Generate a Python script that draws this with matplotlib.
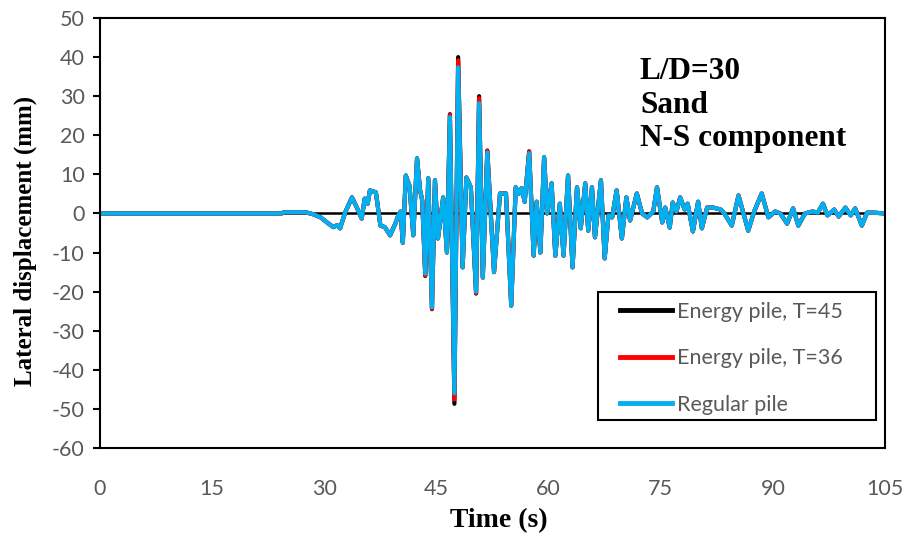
import numpy as np
import matplotlib.pyplot as plt
from matplotlib.lines import Line2D
from matplotlib.patches import Rectangle

plt.rcParams['axes.unicode_minus'] = False

# Desplazamiento lateral (pilote regular, en mm)
tiempo = [0, 24.3, 24.6, 27.5, 28.5, 29.5, 30.5, 31.2, 31.7, 32.1, 32.8, 33.2, 33.7,
          34.4, 35.0, 35.4, 35.8, 36.1, 36.9, 37.5, 38.1, 38.8, 39.5, 39.9, 40.2,
          40.5, 40.9, 41.4, 41.9, 42.4, 42.8, 43.1, 43.5, 43.9, 44.4, 44.8, 45.2,
          45.9, 46.4, 46.8, 47.4, 47.9, 48.5, 49.0, 49.6, 50.3, 50.7, 51.2, 51.8,
          52.7, 53.5, 54.3, 55.0, 55.6, 56.0, 56.4, 56.8, 57.4, 58.0, 58.4, 58.9,
          59.4, 59.8, 60.4, 60.9, 61.5, 62.0, 62.6, 63.2, 63.8, 64.3, 64.9, 65.3,
          65.8, 66.2, 67.0, 67.5, 68.0, 68.5, 69.1, 69.8, 70.4, 70.9, 71.8, 72.5,
          73.2, 74.0, 74.5, 75.2, 75.6, 76.2, 76.6, 77.1, 77.6, 78.2, 78.6, 79.3,
          80.0, 80.5, 81.2, 82.0, 83.0, 83.5, 84.5, 85.4, 86.7, 87.5, 88.5, 89.4,
          90.3, 91.0, 91.9, 92.7, 93.4, 94.3, 95.3, 96.0, 96.7, 97.3, 98.2, 98.8,
          99.7, 100.4, 101.0, 101.9, 102.6, 103.5, 105]
regular = [0, 0, 0.3, 0.3, -0.2, -1.0, -2.5, -3.5, -3.0, -3.8, 0.3, 2.0, 4.1,
           1.3, -1.3, 3.8, 2.5, 5.9, 5.4, -3.1, -3.5, -5.6, -2.6, -0.5, 0.5,
           -7.5, 9.7, 7.0, -5.6, 14.1, 6.0, 3.3, -15.4, 9.0, -24.0, 8.5, -6.4,
           4.1, -10.0, 24.6, -46.0, 37.4, -13.8, 9.2, 6.7, -20.0, 28.2, -16.4, 15.6,
           -15.0, 5.1, 5.1, -23.6, 6.7, 5.0, 6.5, 3.0, 15.4, -10.8, 3.0, -10.0,
           14.4, 0.0, 7.7, -10.8, 2.5, -10.8, 9.7, -13.8, 6.7, -3.8, 7.7, -4.4,
           6.7, -6.1, 8.5, -11.5, -0.5, -1.0, 5.9, -6.4, 4.1, -1.8, 5.1, 0.0,
           -1.0, 0.5, 6.7, -2.3, 1.5, -3.6, 2.8, 0.5, 4.1, 1.0, 2.5, -4.6,
           3.0, -3.8, 1.5, 1.5, 1.0, 0.0, -3.1, 4.6, -4.4, 0.5, 5.1, -1.0,
           0.5, 0.0, -2.6, 1.3, -3.1, 0.0, 0.5, 0.2, 2.5, -0.5, 1.0, -0.8,
           1.5, -0.5, 1.3, -3.1, 0.2, 0.2, 0]

# Picos donde los pilotes de energia se separan del regular
picos_t36 = {43.5: -15.9, 44.4: -24.4, 46.8: 25.2, 47.4: -47.6, 47.9: 39.2,
             50.3: -20.4, 50.7: 29.5, 51.8: 16.0, 57.4: 15.8}
picos_t45 = {43.5: -16.0, 44.4: -24.5, 46.8: 25.4, 47.4: -48.7, 47.9: 40.0,
             50.3: -20.5, 50.7: 30.0, 51.8: 16.1, 57.4: 15.9}

t = np.array(tiempo)
y_reg = np.array(regular)
y_36 = y_reg.copy()
y_45 = y_reg.copy()
for k, v in picos_t36.items():
    y_36[tiempo.index(k)] = v
for k, v in picos_t45.items():
    y_45[tiempo.index(k)] = v

etiquetas = ['Energy pile, T=45', 'Energy pile, T=36', 'Regular pile']
colores = ['#000000', '#FF0000', '#00B0F0']

gris = '#595959'
fig = plt.figure(figsize=(9.11, 5.36), dpi=100)
ax = fig.add_axes([0.1098, 0.1642, 0.8617, 0.8022])

# eje horizontal cruzando en cero
ax.axhline(0, color='black', lw=1.8, zorder=1)
for yy, c in zip([y_45, y_36, y_reg], colores):
    ax.plot(t, yy, color=c, lw=3, zorder=2, solid_joinstyle='round')

ax.set_xlim(0, 105)
ax.set_ylim(-60, 50)
ax.set_xticks(np.arange(0, 106, 15))
ax.set_yticks(np.arange(-60, 51, 10))
for s in ax.spines.values():
    s.set_linewidth(1.5)
ax.tick_params(axis='y', direction='out', length=5, width=1.5, colors='black',
               labelcolor=gris, labelsize=15.5, pad=6)
ax.tick_params(axis='x', length=0, labelcolor=gris, labelsize=15.5, pad=22)
for lab in ax.get_xticklabels() + ax.get_yticklabels():
    lab.set_family('Lato')

fig.text(0.548, 1 - 521 / 536, 'Time (s)', family='Liberation Serif', fontweight='bold',
         fontsize=20, ha='center', va='center')
fig.text(0.028, 0.55, 'Lateral displacement (mm)', family='Liberation Serif',
         fontweight='bold', fontsize=18, ha='center', va='center', rotation=90)

fig.text(0.7025, 0.894, 'L/D=30\nSand\nN-S component', family='Liberation Serif',
         fontweight='bold', fontsize=22.5, va='top', ha='left', linespacing=1.22)

# recuadro de la leyenda
ax.add_patch(Rectangle((0.6344, 0.0651), 0.3541, 0.2977, transform=ax.transAxes,
                       facecolor='white', edgecolor='black', lw=1.5, zorder=4))
handles = [Line2D([0], [0], color=c, lw=3.5) for c in colores]
leg = ax.legend(handles, etiquetas, loc='upper left', bbox_to_anchor=(0.6624, 0.3395),
                borderaxespad=0, borderpad=0, frameon=False, handlelength=2.42,
                handletextpad=0.23, labelspacing=1.22,
                prop={'family': 'Lato', 'size': 15.5})
leg.set_zorder(5)
for txt in leg.get_texts():
    txt.set_color(gris)

plt.savefig('out.png', dpi=100)
